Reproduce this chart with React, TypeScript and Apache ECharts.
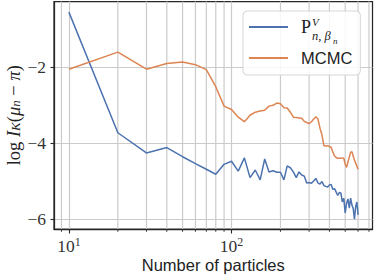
import React, { useEffect, useRef } from 'react';
import * as echarts from 'echarts';

const nParticles = [
  10, 20, 30, 40, 50, 60, 70, 80, 90, 100,
  110, 120, 130, 140, 150, 160, 170, 180, 190, 200,
  210, 220, 230, 240, 250, 260, 270, 280, 290, 300,
  310, 320, 330, 340, 350, 360, 370, 380, 390, 400,
  410, 420, 430, 440, 450, 460, 470, 480, 490, 500,
  510, 520, 530, 540, 550, 560, 570, 580, 590, 600,
];

const pvValues = [
  -0.56, -3.73, -4.26, -4.12, -4.36, -4.54, -4.69, -4.82, -4.56, -4.48,
  -4.74, -4.39, -4.91, -4.71, -4.97, -4.42, -4.76, -4.73, -4.77, -4.77,
  -4.97, -4.60, -4.65, -4.76, -4.91, -4.76, -4.84, -4.87, -5.05, -5.04,
  -5.06, -5.00, -4.93, -5.05, -5.08, -5.01, -5.12, -5.14, -5.16, -5.10,
  -5.09, -5.22, -5.20, -5.29, -5.38, -5.30, -5.31, -5.55, -5.45, -5.84,
  -5.58, -5.47, -5.71, -5.45, -5.63, -5.72, -6.00, -5.67, -5.55, -5.89,
];

const mcmcValues = [
  -2.06, -1.61, -2.06, -1.91, -1.87, -1.94, -2.07, -2.52, -3.03, -3.12,
  -3.32, -3.44, -3.27, -3.19, -3.16, -3.14, -3.03, -3.01, -2.95, -2.97,
  -3.07, -3.08, -3.19, -3.32, -3.33, -3.34, -3.35, -3.43, -3.46, -3.49,
  -3.44, -3.37, -3.31, -3.37, -3.61, -3.79, -4.07, -4.08, -4.07, -4.09,
  -4.11, -4.24, -4.34, -4.38, -4.40, -4.40, -4.40, -4.39, -4.40, -4.55,
  -4.64, -4.50, -4.37, -4.24, -4.23, -4.34, -4.45, -4.53, -4.61, -4.69,
];

const seriesNames = ['pv', 'MCMC'];
const xMajorTicks = [10, 100];
const xMinorTicks = [9, 20, 30, 40, 50, 60, 70, 80, 90, 200, 300, 400, 500, 600, 700];
const yTicks = [-6, -4, -2];
const xAxisTitle = 'Number of particles';

const SERIF = '"Liberation Serif", "DejaVu Serif", serif';
const SANS = '"Liberation Sans", Arial, sans-serif';
const GRID = '#cbcbcb';
const SPINE = '#262626';
const BLUE = '#4c72b0';
const ORANGE = '#dd8452';

export default function App() {
  const ref = useRef<HTMLDivElement>(null);
  useEffect(() => {
    if (!ref.current) return;
    const chart = echarts.init(ref.current, null, { renderer: 'svg' });
    const option: any = {
      animation: false,
      grid: {
        left: 54, right: 1.5, top: 1.5, bottom: 47,
        outerBoundsMode: 'none',
        containLabel: false,
        show: true, borderColor: SPINE, borderWidth: 1.25,
      },
      legend: {
        data: seriesNames,
        orient: 'vertical',
        left: 243,
        top: 11,
        padding: [6, 8, 7, 6],
        itemWidth: 39,
        itemHeight: 2,
        itemGap: 11,
        icon: 'rect',
        backgroundColor: 'rgba(255,255,255,0.85)',
        borderColor: '#d6d6d6',
        borderWidth: 1,
        borderRadius: 4,
        formatter: (name: string) => (name === 'pv' ? '{P|P}' : '{m|' + name + '}'),
        textStyle: {
          padding: [0, 0, 0, 8],
          lineHeight: 20,
          rich: {
            P: { fontFamily: SERIF, fontSize: 18, color: '#222', lineHeight: 20 },
            m: { fontFamily: SANS, fontSize: 16.5, color: '#222', lineHeight: 20 },
          },
        },
      },
      graphic: [
        { type: 'text', left: 312, top: 16, z: 100,
          style: { text: 'V', fontFamily: SERIF, fontStyle: 'italic', fontSize: 11, fill: '#222' } },
        { type: 'text', left: 312, top: 29, z: 100,
          style: { text: 'n, β', fontFamily: SERIF, fontStyle: 'italic', fontSize: 12.5, fill: '#222' } },
        { type: 'text', left: 333, top: 36, z: 100,
          style: { text: 'n', fontFamily: SERIF, fontStyle: 'italic', fontSize: 9, fill: '#222' } },
      ],
      xAxis: {
        type: 'log',
        logBase: 10,
        min: 8.1,
        max: 736,
        name: xAxisTitle,
        nameLocation: 'middle',
        nameGap: 27,
        nameMoveOverlap: false,
        nameTextStyle: { fontFamily: SANS, fontSize: 16.5, color: '#222' },
        axisLine: { show: true, lineStyle: { color: SPINE, width: 1.25 } },
        axisTick: { show: true, customValues: xMajorTicks, length: 4.5, lineStyle: { color: SPINE, width: 1.1 } },
        axisLabel: {
          customValues: xMajorTicks,
          margin: 7,
          formatter: (v: number) => '{b|10}{e|' + Math.round(Math.log10(v)) + '}',
          rich: {
            b: { fontFamily: SERIF, fontSize: 17.5, color: '#333', lineHeight: 20 },
            e: { fontFamily: SERIF, fontSize: 12, color: '#333', lineHeight: 12, verticalAlign: 'top' },
          },
        },
        splitLine: { show: true, lineStyle: { color: GRID, width: 1.2 } },
      },
      yAxis: {
        type: 'value',
        min: -6.26,
        max: -0.28,
        name: '{r|log }{i|I}{s|K}{r|(}{i|μ}{s|n}{r| − }{i|π}{r|)}',
        nameLocation: 'middle',
        nameRotate: 90,
        nameGap: 32,
        nameMoveOverlap: false,
        nameTextStyle: {
          rich: {
            r: { fontFamily: SERIF, fontSize: 18.5, color: '#222', lineHeight: 17 },
            i: { fontFamily: SERIF, fontSize: 18.5, fontStyle: 'italic', color: '#222', lineHeight: 17 },
            s: { fontFamily: SERIF, fontSize: 13, fontStyle: 'italic', color: '#222', lineHeight: 10, verticalAlign: 'bottom' },
          },
        },
        axisLine: { show: true, lineStyle: { color: SPINE, width: 1.25 } },
        axisTick: { show: true, customValues: yTicks, length: 3.5, lineStyle: { color: SPINE, width: 1.1 } },
        axisLabel: {
          customValues: yTicks,
          margin: 8,
          fontFamily: SERIF,
          fontSize: 17.5,
          color: '#333',
          formatter: (v: number) => (v < 0 ? '−' : '') + Math.abs(v),
        },
        splitLine: { show: true, lineStyle: { color: GRID, width: 1.2 } },
      },
      series: [
        {
          name: 'minorGrid',
          type: 'custom',
          clip: false,
          z: 1,
          silent: true,
          data: xMinorTicks.map((v) => [v, -3]),
          renderItem: (params: any, api: any) => {
            const x = api.coord([api.value(0), api.value(1)])[0];
            const cs = params.coordSys;
            const bottom = cs.y + cs.height;
            return {
              type: 'group',
              children: [
                { type: 'line', shape: { x1: x, y1: cs.y, x2: x, y2: bottom }, style: { stroke: GRID, lineWidth: 1.2 } },
                { type: 'line', shape: { x1: x, y1: bottom, x2: x, y2: bottom + 2.8 }, style: { stroke: SPINE, lineWidth: 0.9 } },
              ],
            };
          },
        },
        {
          name: 'pv',
          type: 'line',
          z: 3,
          symbol: 'none',
          data: nParticles.map((n, i) => [n, pvValues[i]]),
          lineStyle: { color: BLUE, width: 1.5 },
          itemStyle: { color: BLUE },
        },
        {
          name: 'MCMC',
          type: 'line',
          z: 4,
          symbol: 'none',
          data: nParticles.map((n, i) => [n, mcmcValues[i]]),
          lineStyle: { color: ORANGE, width: 1.5 },
          itemStyle: { color: ORANGE },
        },
      ],
    };
    chart.setOption(option);
    return () => chart.dispose();
  }, []);
  return <div ref={ref} style={{ position: 'absolute', left: 0, top: 0, width: 374, height: 276 }} />;
}
